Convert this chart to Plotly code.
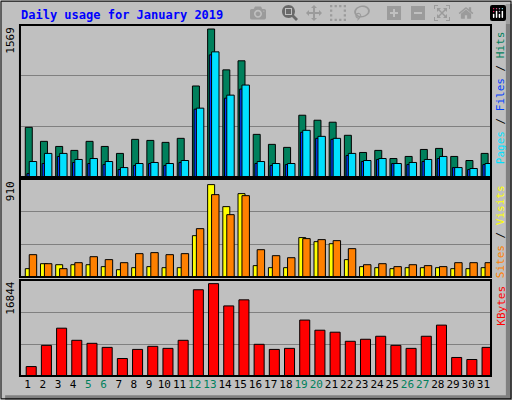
import plotly.graph_objects as go
from plotly.subplots import make_subplots

# daily stats for January 2019
days = list(range(1, 32))
weekend = [5, 6, 12, 13, 19, 20, 26, 27]

hits = [527, 378, 324, 282, 378, 324, 250, 399, 388, 367, 410, 965, 1569, 1136, 1232, 452,
        346, 314, 655, 602, 581, 442, 260, 282, 196, 218, 292, 303, 218, 175, 250]
files = [36, 143, 218, 154, 143, 132, 79, 122, 143, 122, 154, 719, 1295, 836, 932, 143,
         122, 132, 474, 410, 399, 228, 164, 186, 143, 132, 164, 196, 100, 79, 132]
pages = [164, 250, 250, 186, 196, 164, 100, 143, 154, 143, 175, 730, 1327, 868, 975, 164,
         143, 143, 495, 431, 410, 250, 175, 196, 143, 154, 186, 218, 100, 90, 143]
visits = [82, 131, 121, 121, 121, 102, 72, 92, 102, 92, 92, 407, 910, 693, 821, 112,
          92, 92, 388, 348, 328, 171, 102, 92, 82, 92, 92, 92, 82, 82, 92]
sites = [220, 131, 82, 141, 200, 171, 141, 230, 240, 220, 230, 476, 811, 614, 801, 269,
         210, 190, 378, 368, 358, 279, 121, 131, 102, 121, 112, 102, 141, 141, 141]
kbytes = [1720, 5590, 8720, 6510, 5960, 5220, 3190, 4850, 5410, 5040, 6510, 15730, 16844, 12780, 13890, 5780,
          4850, 5040, 10200, 8350, 7990, 6330, 6700, 7250, 5590, 5040, 7250, 9280, 3380, 3010, 5220]

FONT = "DejaVu Sans Mono"
BG = "#c0c0c0"

fig = make_subplots(rows=3, cols=1, shared_xaxes=True)

def bars(vals, color, offset, width, row):
    fig.add_trace(go.Bar(x=days, y=vals, marker_color=color, offset=offset, width=width,
                         marker_line=dict(color="black", width=1), showlegend=False), row=row, col=1)

bars(hits, "#00805c", -0.15, 0.46, 1)
bars(files, "#0040ff", -0.04, 0.3, 1)
bars(pages, "#00e0ff", 0.11, 0.49, 1)
bars(visits, "#ffff00", -0.15, 0.46, 2)
bars(sites, "#ff8000", 0.11, 0.49, 2)
bars(kbytes, "#ff0000", -0.09, 0.66, 3)

fig.update_layout(barmode="overlay", width=512, height=400, margin=dict(l=0, r=0, t=0, b=0),
                  paper_bgcolor=BG, plot_bgcolor=BG, font=dict(family=FONT, size=11, color="black"))

doms = [(0.5575, 0.9375), (0.3075, 0.5525), (0.06, 0.30)]
tops = [max(hits) * 151 / 147, max(visits) * 98 / 92.4, max(kbytes) * 95 / 91.4]
for i, (d, r) in enumerate(zip(doms, tops), start=1):
    fig.update_yaxes(domain=list(d), range=[0, r], tickvals=[r / 3, 2 * r / 3], showticklabels=False,
                     gridcolor="#808080", gridwidth=1, zeroline=False, fixedrange=True, row=i, col=1)
    fig.update_xaxes(domain=[0.039, 0.959], range=[0.5, 31.5], showgrid=False, zeroline=False,
                     showticklabels=False, ticks="", row=i, col=1)
    fig.add_shape(type="rect", xref="paper", yref="paper", x0=0.039, x1=0.959, y0=d[0], y1=d[1],
                  line=dict(color="black", width=2))

ticktext = [f'<span style="color:#00805c">{d}</span>' if d in weekend else str(d) for d in days]
fig.update_xaxes(showticklabels=True, tickvals=days, ticktext=ticktext, tickangle=0,
                 tickfont=dict(family=FONT, size=11), row=3, col=1)

# outer frame
fig.add_shape(type="rect", xref="paper", yref="paper", x0=0.988, x1=1, y0=0, y1=0.99,
              fillcolor="#808080", line_width=0, layer="below")
fig.add_shape(type="rect", xref="paper", yref="paper", x0=0.01, x1=1, y0=0, y1=0.012,
              fillcolor="#808080", line_width=0, layer="below")
fig.add_shape(type="rect", xref="paper", yref="paper", x0=0.002, x1=0.998, y0=0.003, y1=0.997,
              line=dict(color="black", width=1))

fig.add_annotation(text="<b>Daily usage for January 2019</b>", xref="paper", yref="paper",
                   x=0.037, y=0.985, xanchor="left", yanchor="top", showarrow=False,
                   font=dict(family=FONT, size=12, color="#0000ff"))

for label, d in zip(["1569", "910", "16844"], doms):
    fig.add_annotation(text=label, xref="paper", yref="paper", x=0.02, y=d[1], textangle=-90,
                       xanchor="center", yanchor="top", showarrow=False, font=dict(family=FONT, size=11))

side = [
    '<span style="color:#00e0ff">Pages</span> / <span style="color:#0040ff">Files</span> / <span style="color:#00805c">Hits</span>',
    '<span style="color:#ff8000">Sites</span> / <span style="color:#ffff00">Visits</span>',
    '<span style="color:#ff0000">KBytes</span>',
]
for label, d in zip(side, doms):
    fig.add_annotation(text=label, xref="paper", yref="paper", x=0.978, y=d[1] - 0.01, textangle=-90,
                       xanchor="center", yanchor="top", showarrow=False, font=dict(family=FONT, size=11))

fig.write_html("out.html", post_script="document.body.style.margin='0';")
